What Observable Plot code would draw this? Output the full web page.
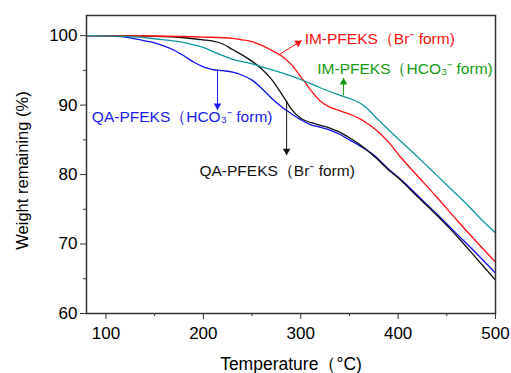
<!DOCTYPE html>
<html>
<head>
<meta charset="utf-8">
<script src="https://cdn.jsdelivr.net/npm/d3@7"></script>
<script src="https://cdn.jsdelivr.net/npm/@observablehq/plot@0.6"></script>
<style>
  html, body { margin: 0; padding: 0; background: #fff; }
  #chart { width: 511px; height: 373px; }
</style>
</head>
<body>
<div id="chart"></div>
<script>
// ---- Data ----
const seriesNames = [
  "QA-PFEKS (HCO3- form)",
  "QA-PFEKS (Br- form)",
  "IM-PFEKS (Br- form)",
  "IM-PFEKS (HCO3- form)"
];
const seriesColors = ["#1010f0", "#111111", "#ff1010", "#109898"];

const qaHco3Temp = [80, 100, 120, 140, 150, 160, 170, 180, 190, 200, 210, 220, 230, 240, 250, 260, 270, 280, 290, 300, 310, 320, 330, 340, 350, 360, 375, 390, 402, 420, 440, 460, 480, 500];
const qaHco3Wt   = [100, 99.97, 99.8, 99.25, 98.95, 98.5, 97.9, 97.1, 96.2, 95.5, 95.1, 94.95, 94.75, 94.3, 93.6, 92.4, 91.0, 89.8, 88.8, 87.9, 87.2, 86.8, 86.4, 85.8, 85.0, 84.2, 82.8, 80.8, 79.4, 77.0, 74.3, 71.5, 68.7, 65.8];

const qaBrTemp = [80, 100, 150, 180, 200, 210, 220, 230, 240, 250, 260, 270, 280, 285, 290, 300, 310, 320, 330, 340, 350, 360, 378, 390, 402, 420, 440, 460, 480, 500];
const qaBrWt   = [100, 100, 99.9, 99.7, 99.4, 99.2, 98.8, 98.0, 97.2, 96.3, 95.2, 93.7, 91.7, 90.6, 89.5, 88.1, 87.5, 87.1, 86.7, 86.1, 85.3, 84.4, 82.3, 80.7, 79.3, 76.8, 74.1, 71.2, 68.0, 64.8];

const imBrTemp = [80, 150, 200, 230, 240, 250, 260, 270, 280, 290, 300, 310, 320, 330, 340, 350, 360, 370, 380, 390, 402, 420, 440, 460, 480, 500];
const imBrWt   = [100, 99.95, 99.8, 99.6, 99.4, 99.15, 98.6, 97.9, 97.1, 95.9, 94.1, 92.2, 90.6, 89.7, 89.2, 88.7, 88.1, 87.2, 86.1, 84.7, 82.6, 79.8, 76.7, 73.5, 70.4, 67.4];

const imHco3Temp = [80, 120, 140, 160, 180, 200, 215, 230, 245, 260, 275, 290, 305, 320, 335, 345, 355, 365, 378, 395, 412, 430, 450, 470, 485, 500];
const imHco3Wt   = [100, 99.9, 99.7, 99.4, 99.0, 98.3, 97.4, 96.6, 96.1, 95.5, 94.9, 94.2, 93.4, 92.5, 91.7, 91.2, 90.7, 89.9, 88.1, 85.8, 83.6, 81.2, 78.5, 75.8, 73.6, 71.6];

// Axis ticks
const xTicks = [100, 200, 300, 400, 500];
const xMinorTicks = [150, 250, 350, 450];
const yTicks = [60, 70, 80, 90, 100];
const yMinorTicks = [65, 75, 85, 95];

// Annotations: label text, label anchor (data units), arrow start/end (data units)
const labelTexts  = ["IM-PFEKS（Br⁻ form)", "IM-PFEKS（HCO₃⁻ form)", "QA-PFEKS（HCO₃⁻ form)", "QA-PFEKS（Br⁻ form)"];
const labelColors = ["#ff1010", "#139a13", "#1a1aee", "#111111"];
const labelT      = [304, 317, 85.5, 196];
const labelW      = [99.5, 95.2, 88.3, 80.5];
const arrowT1     = [277, 344, 214.5, 285.5];
const arrowW1     = [97.2, 91.4, 95.0, 90.6];
const arrowT2     = [301, 344, 214.5, 285.5];
const arrowW2     = [99.3, 93.9, 89.3, 82.8];
const arrowRotate = [58, 0, 180, 180];
// pixel shift so that the triangle's tip lands on the arrow end
const headDx      = [-3.7, 0, 0, 0];
const headDy      = [2.3, 4.2, -4.2, -4.2];

// ---- Build tables ----
const allTemps = [qaHco3Temp, qaBrTemp, imBrTemp, imHco3Temp];
const allWts = [qaHco3Wt, qaBrWt, imBrWt, imHco3Wt];
const curves = [];
seriesNames.forEach((name, i) => {
  allTemps[i].forEach((t, j) => curves.push({series: name, T: t, W: allWts[i][j]}));
});
const notes = labelTexts.map((text, i) => ({
  text, color: labelColors[i], T: labelT[i], W: labelW[i],
  T1: arrowT1[i], W1: arrowW1[i], T2: arrowT2[i], W2: arrowW2[i],
  rot: arrowRotate[i]
}));

const heads = notes.map((d, i) =>
  Plot.dot([d], {x: "T2", y: "W2", symbol: "triangle", r: 2.8, fill: d.color, stroke: "none",
    rotate: d.rot, dx: headDx[i], dy: headDy[i]})
);

const font = "'Liberation Sans', Arial, Helvetica, sans-serif";

const chart = Plot.plot({
  width: 511,
  height: 373,
  marginLeft: 86,
  marginRight: 16,
  marginTop: 15,
  marginBottom: 60,
  style: {fontFamily: font, background: "#fff", color: "#000", overflow: "visible"},
  x: {domain: [80, 500]},
  y: {domain: [60, 102.9]},
  color: {domain: seriesNames, range: seriesColors},
  marks: [
    Plot.line(curves, {x: "T", y: "W", z: "series", stroke: "series", strokeWidth: 1.3, curve: "monotone-x"}),
    Plot.frame({stroke: "#333", strokeWidth: 1.5}),
    Plot.axisY(yTicks, {tickSize: 6, tickPadding: 3, fontSize: 17, label: null, stroke: "#333"}),
    Plot.axisY(yMinorTicks, {tickSize: 3, fill: "none", label: null, stroke: "#333"}),
    Plot.axisX(xTicks, {tickSize: 6, tickPadding: 7, fontSize: 17, label: null, stroke: "#333"}),
    Plot.axisX(xMinorTicks, {tickSize: 3, fill: "none", label: null, stroke: "#333"}),
    Plot.link(notes, {x1: "T1", y1: "W1", x2: "T2", y2: "W2", stroke: d => d.color, strokeWidth: 1}),
    ...heads,
    Plot.text(notes, {x: "T", y: "W", text: "text", fill: d => d.color, textAnchor: "start", lineAnchor: "middle", fontSize: 15.5}),
    Plot.text(["Weight remaining (%)"], {frameAnchor: "left", dx: -64, dy: 6, rotate: -90, fontSize: 16.5, textAnchor: "middle", lineAnchor: "middle"}),
    Plot.text(["Temperature（°C)"], {frameAnchor: "bottom", dy: 51, fontSize: 17.5, textAnchor: "middle", lineAnchor: "middle"})
  ]
});
document.getElementById("chart").appendChild(chart);
</script>
</body>
</html>
